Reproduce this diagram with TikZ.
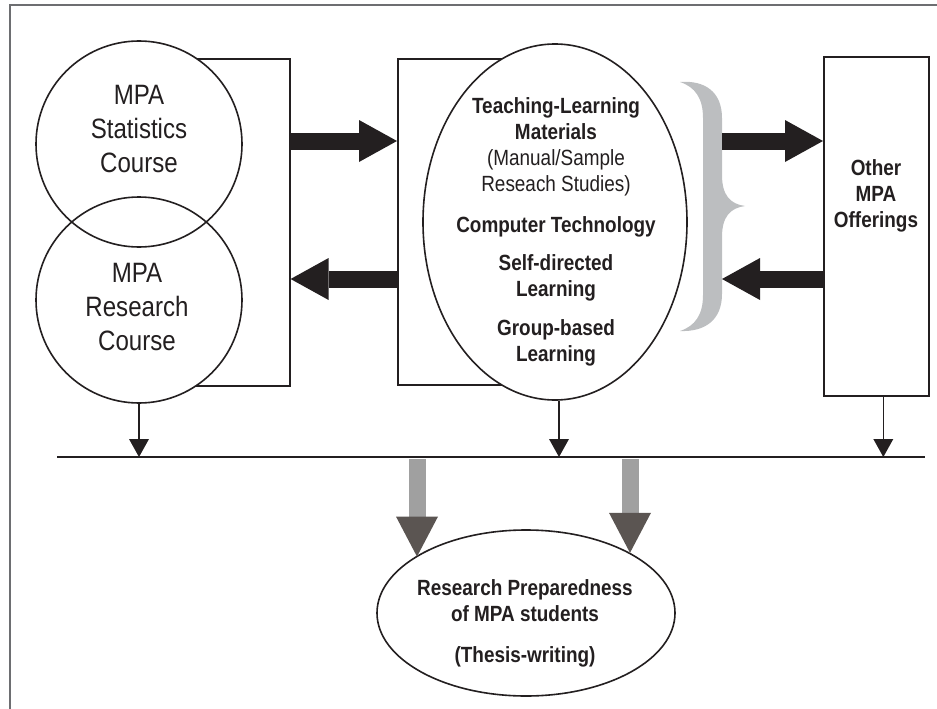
\documentclass[tikz,border=0pt]{standalone}
\usepackage{fontspec}
\setmainfont{Liberation Sans}[FakeStretch=0.86]
\usepackage{tikz}
\usetikzlibrary{arrows.meta,shapes.geometric}
\definecolor{ink}{HTML}{231F20}
\definecolor{framegray}{HTML}{6D6E71}
\definecolor{bracegray}{HTML}{BCBEC0}
\definecolor{shaftgray}{HTML}{A0A0A0}
\definecolor{headgray}{HTML}{5B5552}

\begin{document}
\begin{tikzpicture}[x=1pt,y=-1pt,
  every node/.style={inner sep=0pt},
  box/.style={draw=ink,line width=1.6pt,anchor=north west},
  ring/.style={circle,draw=ink,line width=1.6pt,minimum size=206pt},
  oval/.style={ellipse,draw=ink,line width=1.6pt,fill=white},
  bigtxt/.style={font=\fontsize{28}{34}\selectfont,align=center,anchor=north,text=ink},
  boldtxt/.style={font=\fontsize{22}{26}\selectfont\bfseries,align=center,anchor=north,text=ink},
  fatarrow/.style={draw=ink,line width=17pt,-{Triangle[width=42pt,length=38pt,line width=0pt]}},
  greyarrow/.style={draw=shaftgray,line width=17pt,-{Triangle[width=42pt,length=40pt,line width=0pt,color=headgray]}},
  drop/.style={draw=ink,line width=1.6pt,-{Triangle[width=20pt,length=18pt,line width=0pt]}}]
%\draw[help lines] (0,0) grid (937,709);
\useasboundingbox (0,0) rectangle (937,709);
\draw[framegray,line width=2pt] (10,709) -- (10,5) -- (937,5);

% boxes behind the circles and the oval
\node[box,minimum width=150pt,minimum height=327pt] (statbox) at (139,58) {};
\node[box,minimum width=159pt,minimum height=326pt] (midbox) at (397,58) {};
\node[box,minimum width=105pt,minimum height=339pt] (other) at (823,56) {};

\fill[white] (139,144) circle (103pt) (139,300) circle (103pt);
\node[ring] (stat) at (139,144) {};
\node[ring] (resc) at (139,300) {};
\node[oval,minimum width=264pt,minimum height=356pt] (tlm) at (555,222) {};
\node[oval,minimum width=298pt,minimum height=166pt] (prep) at (526,613) {};

\node[bigtxt] (statT) at (139,85) {MPA\\Statistics\\Course};
\node[bigtxt] (rescT) at (137,263) {MPA\\Research\\Course};
\node[boldtxt] (tlmT) at (556,97) {Teaching-Learning\\Materials\\{\mdseries(Manual/Sample}\\{\mdseries Reseach Studies)}\\[15pt]Computer Technology\\[12pt]Self-directed\\Learning\\[13pt]Group-based\\Learning};
\node[boldtxt] (otherT) at (876,159) {Other\\MPA\\Offerings};
\node[boldtxt] (prepT) at (525,579) {Research Preparedness\\of MPA students\\[15pt](Thesis-writing)};

% brace
\fill[bracegray] (680,82) .. controls (705,80) and (722,92) .. (722,118) -- (722,175)
  .. controls (722,195) and (730,204) .. (745,206)
  .. controls (730,208) and (722,217) .. (722,237) -- (722,294)
  .. controls (722,320) and (705,332) .. (680,331)
  .. controls (695,326) and (703,315) .. (703,295) -- (703,118)
  .. controls (703,98) and (695,87) .. (680,82) -- cycle;

\coordinate (hi) at (0,141);
\coordinate (lo) at (0,279);
\coordinate (braceR) at (722,206);
\draw[fatarrow] (statbox.east |- hi) -- (midbox.west |- hi);
\draw[fatarrow] (midbox.west |- lo) -- (statbox.east |- lo);
\draw[fatarrow] (braceR |- hi) -- (other.west |- hi);
\draw[fatarrow] (other.west |- lo) -- (braceR |- lo);

\coordinate (busL) at (57,457);
\coordinate (busR) at (925,457);
\draw[ink,line width=1.2pt] (busL) -- (busR);
\draw[drop] (resc.south) -- (resc.south |- busL);
\draw[drop] ([xshift=4pt]tlm.south) -- ([xshift=4pt]tlm.south |- busL);
\draw[drop] ([xshift=7pt]other.south) -- ([xshift=7pt]other.south |- busL);

\coordinate (g1) at (417,459);
\coordinate (g2) at (630,459);
\draw[greyarrow] (g1) -- (g1 |- prep.153);
\draw[greyarrow] (g2) -- (g2 |- prep.30);
\end{tikzpicture}
\end{document}
